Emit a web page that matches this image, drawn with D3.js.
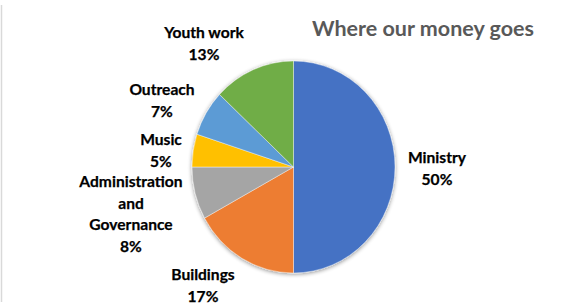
<!DOCTYPE html>
<html>
<head>
<meta charset="utf-8">
<script src="https://cdn.jsdelivr.net/npm/d3@7"></script>
<style>
  html, body { margin: 0; padding: 0; background: #fff; }
  svg { display: block; }
</style>
</head>
<body>
<div id="chart"></div>
<script>
'use strict'

// Données du graphique
var categories = ["Ministry", "Buildings", "Administration and Governance", "Music", "Outreach", "Youth work"];
var values = [50, 17, 8, 5, 7, 13];
var colors = ["#4472C4", "#ED7D31", "#A5A5A5", "#FFC000", "#5B9BD5", "#70AD47"];
var labelLines = [["Ministry"], ["Buildings"], ["Administration", "and", "Governance"], ["Music"], ["Outreach"], ["Youth work"]];
// Position des étiquettes (centre x, première ligne de base)
var labelPos = [[437, 163], [203, 280], [131, 187], [161, 145], [162, 95], [204, 38]];

var width = 580;
var height = 304;

var svg = d3.select("#chart")
	.append("svg")
	.attr("width", width)
	.attr("height", height);

// Bordure gauche du graphique
svg.append("line")
	.attr("x1", 1.5).attr("x2", 1.5)
	.attr("y1", 5).attr("y2", 302)
	.style("stroke", "#d9d9d9")
	.style("stroke-width", 1.5);

var defs = svg.append("defs");
var filter = defs.append("filter")
	.attr("id", "shadow")
	.attr("x", "-20%").attr("y", "-20%")
	.attr("width", "140%").attr("height", "140%");
filter.append("feGaussianBlur").attr("in", "SourceAlpha").attr("stdDeviation", 2.2).attr("result", "blur");
filter.append("feOffset").attr("in", "blur").attr("dx", 0).attr("dy", 0.5).attr("result", "off");
filter.append("feComponentTransfer").attr("in", "off").attr("result", "soft")
	.append("feFuncA").attr("type", "linear").attr("slope", 0.45);
var merge = filter.append("feMerge");
merge.append("feMergeNode").attr("in", "soft");
merge.append("feMergeNode").attr("in", "SourceGraphic");

var ry = 106;
var rx = 101.5;
var cx = 293.5;
var cy = 167;

var pie = d3.pie().sort(null).value(function(d){ return d; });
var arc = d3.arc().innerRadius(0).outerRadius(ry);

var data = pie(values);

var g = svg.append("g")
	.attr("transform", "translate(" + cx + "," + cy + ") scale(" + (rx / ry) + ",1)")
	.style("filter", "url(#shadow)");

g.selectAll("path")
	.data(data)
	.enter()
	.append("path")
		.attr("d", arc)
		.attr("fill", function(d, i){ return colors[i]; })
		.style("stroke", "#ffffff")
		.style("stroke-width", 0.6)
		.style("stroke-opacity", 0.7);

// Titre
svg.append("text")
	.attr("x", 423)
	.attr("y", 36)
	.attr("text-anchor", "middle")
	.style("font-family", "Lato, 'Open Sans', sans-serif")
	.style("font-weight", "bold")
	.style("font-size", "21.5px")
	.style("fill", "#595959")
	.text("Where our money goes");

// Étiquettes
var total = d3.sum(values);
var labels = svg.selectAll("g.label")
	.data(data)
	.enter()
	.append("text")
		.attr("class", "label")
		.attr("text-anchor", "middle")
		.style("font-family", "Lato, 'Open Sans', sans-serif")
		.style("font-weight", "bold")
		.style("font-size", "15.6px")
		.style("fill", "#000")
		.style("stroke", "#000")
		.style("stroke-width", 0.25);

labels.each(function(d, i){
	var t = d3.select(this);
	var lines = labelLines[i].concat([Math.round(d.value / total * 100) + "%"]);
	lines.forEach(function(s, k){
		t.append("tspan")
			.attr("x", labelPos[i][0])
			.attr("y", labelPos[i][1] + k * 21.6)
			.text(s);
	});
});
</script>
</body>
</html>
